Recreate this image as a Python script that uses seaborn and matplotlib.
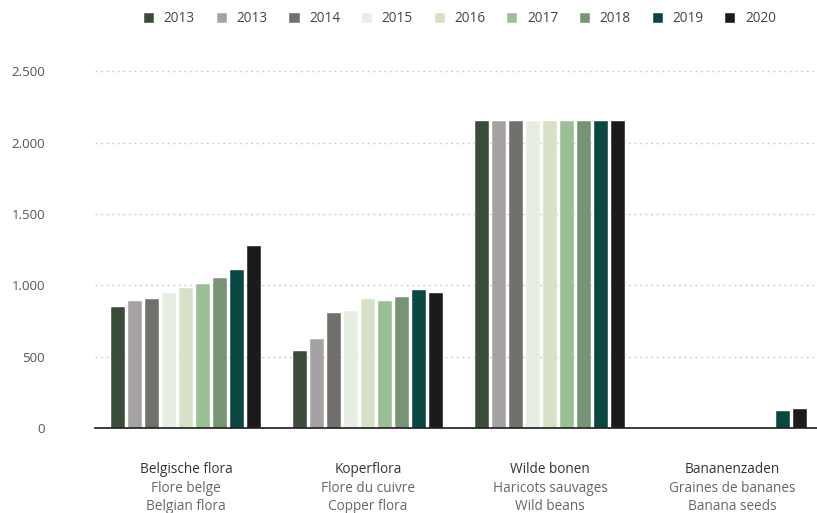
import pandas as pd
import seaborn as sns
import matplotlib.pyplot as plt

# categories (three languages per group)
categories = ['Belgische flora', 'Koperflora', 'Wilde bonen', 'Bananenzaden']
categories_fr = ['Flore belge', 'Flore du cuivre', 'Haricots sauvages', 'Graines de bananes']
categories_en = ['Belgian flora', 'Copper flora', 'Wild beans', 'Banana seeds']

# series (the first label appears twice in the original legend)
series_keys = ['2013a', '2013b', '2014', '2015', '2016', '2017', '2018', '2019', '2020']
series_labels = ['2013', '2013', '2014', '2015', '2016', '2017', '2018', '2019', '2020']
colors = ['#3a4f38', '#a7a1a3', '#72706b', '#e6f0df', '#d7e6c2',
          '#94c68e', '#729b6f', '#00504a', '#1b1b1b']

belgische_flora = [845, 887, 901, 945, 985, 1013, 1055, 1111, 1279]
koperflora = [537, 621, 803, 817, 901, 887, 915, 971, 943]
wilde_bonen = [2150, 2150, 2150, 2150, 2150, 2150, 2150, 2150, 2150]
bananenzaden = [0, 0, 0, 0, 0, 0, 0, 117, 131]

values = [belgische_flora, koperflora, wilde_bonen, bananenzaden]

rows = []
for cat, vals in zip(categories, values):
    for key, v in zip(series_keys, vals):
        rows.append({'category': cat, 'year': key, 'value': v})
df = pd.DataFrame(rows)

sns.set_style('white')
plt.rcParams['font.family'] = ['Open Sans', 'DejaVu Sans']

fig = plt.figure(figsize=(8.17, 5.13), dpi=100)
ax = fig.add_axes([95 / 817, 85 / 513, 728 / 817, 368 / 513])

sns.barplot(data=df, x='category', y='value', hue='year', order=categories,
            hue_order=series_keys, palette=colors, width=0.84, gap=0.17,
            edgecolor='#ffffff', linewidth=0.3, ax=ax, legend=True)

ax.set_xlim(-0.5, 3.5)
ax.set_ylim(0, 2580)
ax.set_yticks([0, 500, 1000, 1500, 2000, 2500])
ax.set_yticklabels(['0', '500', '1.000', '1.500', '2.000', '2.500'])
ax.tick_params(axis='y', length=0, pad=36, labelsize=9.5, labelcolor='#555555')
ax.tick_params(axis='x', length=0)
ax.set_xticklabels([])
ax.set_xlabel('')
ax.set_ylabel('')

for y in [500, 1000, 1500, 2000, 2500]:
    ax.axhline(y, color='#cfcfcf', linestyle=(0, (1.5, 2.5)), linewidth=1, zorder=0)

for s in ['top', 'right', 'left']:
    ax.spines[s].set_visible(False)
ax.spines['bottom'].set_color('#1b1b1b')
ax.spines['bottom'].set_linewidth(1.2)

trans = ax.get_xaxis_transform()
for i in range(len(categories)):
    ax.text(i, -0.113, categories[i], transform=trans, ha='center', va='center',
            fontsize=9.8, color='#333333')
    ax.text(i, -0.165, categories_fr[i], transform=trans, ha='center', va='center',
            fontsize=9.8, color='#666666')
    ax.text(i, -0.214, categories_en[i], transform=trans, ha='center', va='center',
            fontsize=9.8, color='#666666')

handles, _ = ax.get_legend_handles_labels()
ax.legend(handles, series_labels, ncol=9, frameon=False, loc='center',
          bbox_to_anchor=(460 / 817, 1 - 19 / 513), bbox_transform=fig.transFigure,
          fontsize=9.8, handlelength=0.75, handleheight=0.75, handletextpad=0.7,
          columnspacing=1.6, labelcolor='#444444')

fig.savefig('out.png', dpi=100)
